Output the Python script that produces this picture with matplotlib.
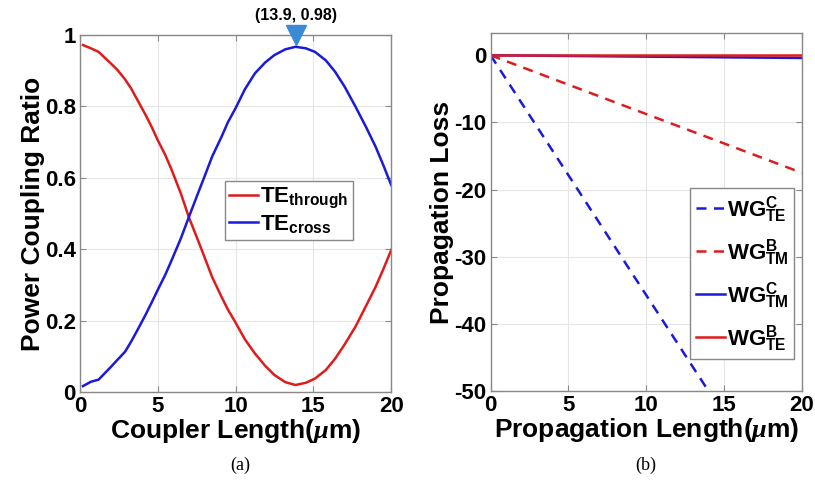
import matplotlib
matplotlib.use("Agg")
import matplotlib.pyplot as plt

# ---- data (a) ----
coupler_len = [0.2, 0.7, 1.2, 2.0, 2.4, 2.9, 3.3, 3.7, 4.2, 4.6, 5.0, 5.5, 5.9, 6.5, 7.0, 7.5,
               8.0, 8.5, 9.1, 9.5, 10.0, 10.6, 11.25, 11.9, 12.5, 13.2, 13.85, 14.5, 15.1,
               15.8, 16.4, 17.0, 17.7, 18.4, 19.0, 19.5, 20]
te_through = [0.972, 0.963, 0.953, 0.92, 0.903, 0.876, 0.85, 0.818, 0.778, 0.744, 0.706, 0.663,
              0.622, 0.555, 0.49, 0.435, 0.379, 0.322, 0.267, 0.232, 0.195, 0.148, 0.108, 0.074,
              0.048, 0.028, 0.02, 0.026, 0.038, 0.062, 0.094, 0.133, 0.183, 0.243, 0.295,
              0.345, 0.398]
te_cross = [0.017, 0.029, 0.035, 0.071, 0.09, 0.113, 0.142, 0.174, 0.215, 0.25, 0.286, 0.33,
            0.37, 0.432, 0.49, 0.547, 0.603, 0.66, 0.715, 0.755, 0.795, 0.848, 0.893, 0.923,
            0.944, 0.96, 0.967, 0.963, 0.953, 0.929, 0.897, 0.856, 0.80, 0.741, 0.687, 0.635,
            0.58]
peak_x, peak_y = 13.9, 0.98

# ---- data (b) ----
prop_len = [0, 20]
wg_te_c_x = [0, 14]
wg_te_c = [0, -50]
wg_tm_b = [0, -17.5]
wg_tm_c = [0, -0.4]
wg_te_b = [0, 0.0]

RED = "#e01b1b"
BLUE = "#1a1adb"

plt.rcParams["font.family"] = ["Liberation Sans", "DejaVu Sans"]
plt.rcParams["font.weight"] = "bold"
plt.rcParams["axes.unicode_minus"] = False
plt.rcParams["mathtext.fontset"] = "custom"
plt.rcParams["mathtext.rm"] = "Liberation Sans:bold"
plt.rcParams["mathtext.bf"] = "Liberation Sans:bold"
plt.rcParams["mathtext.it"] = "Liberation Serif:italic"

fig = plt.figure(figsize=(8.15, 4.8), dpi=100)
ax1 = fig.add_axes([0.098, 0.183, 0.382, 0.744])
ax2 = fig.add_axes([0.602, 0.185, 0.382, 0.746])

def style(ax):
    ax.grid(True, color="#e6e6e6", linewidth=0.8)
    ax.set_axisbelow(True)
    for s in ax.spines.values():
        s.set_color("#888888")
        s.set_linewidth(1.0)
    ax.tick_params(direction="in", top=True, right=True, length=4, width=0.8,
                   color="#888888", labelsize=16, pad=3)
    for lbl in ax.get_xticklabels() + ax.get_yticklabels():
        lbl.set_fontweight("bold")

# (a)
ax1.plot(coupler_len, te_through, color=RED, lw=1.8, label=r"TE$_{\mathrm{through}}$")
ax1.plot(coupler_len, te_cross, color=BLUE, lw=1.8, label=r"TE$_{\mathrm{cross}}$")
ax1.plot([peak_x], [1.0], marker="v", color="#3a8ad6", markersize=14, clip_on=False, zorder=5)
ax1.annotate(f"({peak_x}, {peak_y})", xy=(peak_x, 1.0), xytext=(0, 9), textcoords="offset points",
             ha="center", va="bottom", fontsize=11.5, fontweight="bold", annotation_clip=False)
ax1.set_xlim(0, 20)
ax1.set_ylim(0, 1)
ax1.set_xticks([0, 5, 10, 15, 20])
ax1.set_yticks([0, 0.2, 0.4, 0.6, 0.8, 1])
ax1.set_yticklabels(["0", "0.2", "0.4", "0.6", "0.8", "1"])
ax1.set_xlabel(r"Coupler Length($\mathit{\mu}$m)", fontsize=19, fontweight="bold", labelpad=0)
ax1.set_ylabel("Power Coupling Ratio", fontsize=19, fontweight="bold", labelpad=0)
style(ax1)
leg1 = ax1.legend(loc="upper left", bbox_to_anchor=(0.465, 0.59), fontsize=16, handlelength=1.3,
                  handletextpad=0.1, borderpad=0.2, labelspacing=0.12, fancybox=False, framealpha=1,
                  borderaxespad=0)
leg1.get_frame().set_edgecolor("#888888")
for t in leg1.get_texts():
    t.set_fontweight("bold")

# (b)
ax2.plot(wg_te_c_x, wg_te_c, color=BLUE, lw=1.8, ls=(0, (4, 3)), label=r"WG$^{\mathrm{C}}_{\mathrm{TE}}$")
ax2.plot(prop_len, wg_tm_b, color=RED, lw=1.8, ls=(0, (4, 3)), label=r"WG$^{\mathrm{B}}_{\mathrm{TM}}$")
ax2.plot(prop_len, wg_tm_c, color=BLUE, lw=1.8, label=r"WG$^{\mathrm{C}}_{\mathrm{TM}}$")
ax2.plot(prop_len, wg_te_b, color=RED, lw=1.8, label=r"WG$^{\mathrm{B}}_{\mathrm{TE}}$")
ax2.set_xlim(0, 20)
ax2.set_ylim(-50, 3.3)
ax2.set_xticks([0, 5, 10, 15, 20])
ax2.set_yticks([-50, -40, -30, -20, -10, 0])
ax2.set_xlabel(r"Propagation Length($\mathit{\mu}$m)", fontsize=19, fontweight="bold", labelpad=0)
ax2.set_ylabel("Propagation Loss", fontsize=19, fontweight="bold", labelpad=0)
style(ax2)
leg2 = ax2.legend(loc="upper right", bbox_to_anchor=(0.975, 0.567), fontsize=16, handlelength=1.3,
                  handletextpad=0.1, borderpad=0.25, labelspacing=0.55, fancybox=False, framealpha=1,
                  borderaxespad=0)
leg2.get_frame().set_edgecolor("#888888")
for t in leg2.get_texts():
    t.set_fontweight("bold")

fig.text(0.295, 0.022, "(a)", ha="center", fontsize=13, family="Liberation Serif", fontweight="normal")
fig.text(0.792, 0.022, "(b)", ha="center", fontsize=13, family="Liberation Serif", fontweight="normal")

fig.savefig("out.png", dpi=100)
